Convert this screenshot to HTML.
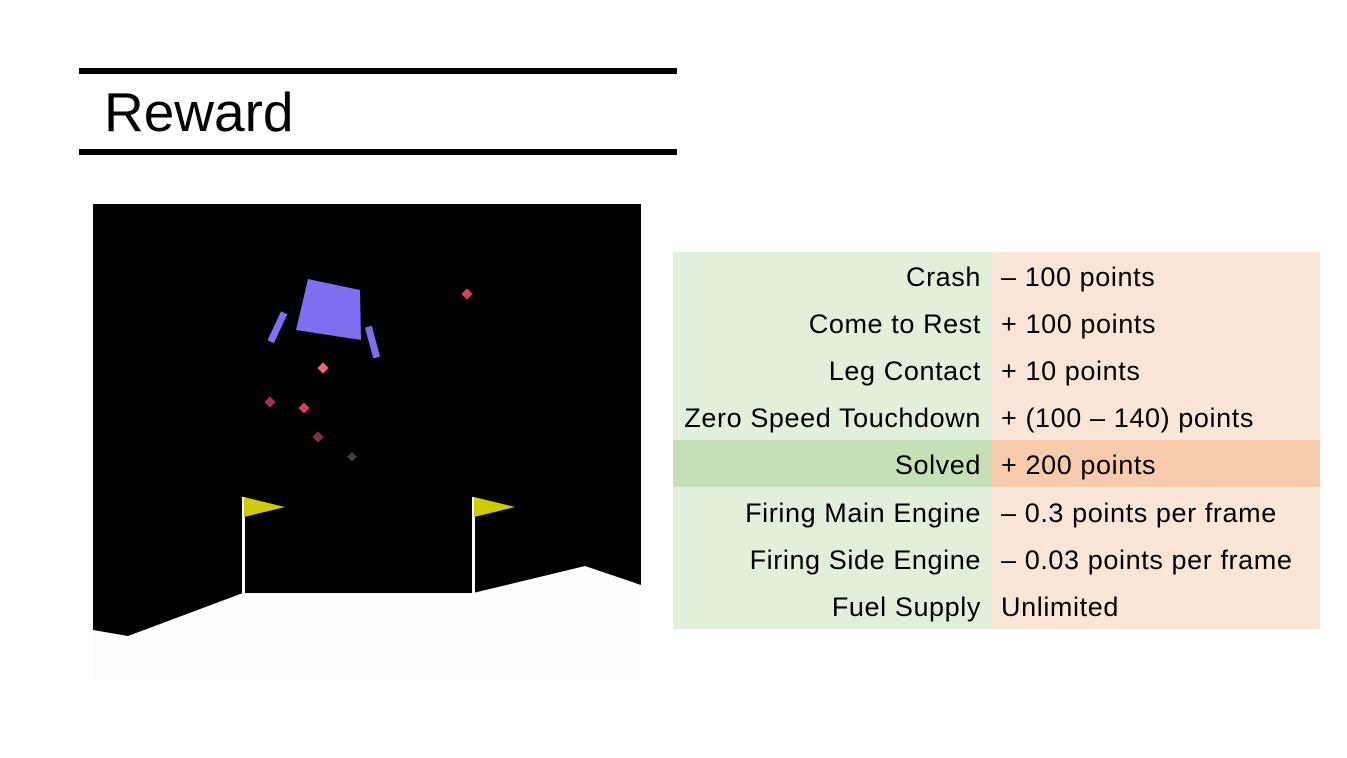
<!DOCTYPE html>
<html><head><meta charset="utf-8"><style>
body{margin:0;width:1347px;height:758px;background:#fff;position:relative;overflow:hidden;font-family:"Liberation Sans",sans-serif}
.bar{position:absolute;left:79px;width:598px;height:6px;background:#000}
#title{position:absolute;left:104px;top:80px;font-size:55px;color:#000}
table{position:absolute;left:673px;top:252px;width:647px;border-collapse:collapse;font-size:27px;letter-spacing:0.6px}
td{height:47.1px;padding:4px 10px 0 10px;box-sizing:border-box;white-space:nowrap}
td.l{text-align:right;background:#e2efda;width:318px}
td.r{background:#fbe5d6}
tr.s td.l{background:#c5e0b4}tr.s td.r{background:#f8cbad}
</style></head><body>
<div class="bar" style="top:68px"></div>
<div id="title">Reward</div>
<div class="bar" style="top:149px"></div>
<svg style="position:absolute;left:93px;top:204px" width="548" height="476">
<rect width="548" height="476" fill="#000"/>
<polygon points="0,426 35,432 150,389 380,389 492,362 548,381 548,476 0,476" fill="#fdfdfd"/>
<rect x="149" y="293" width="3" height="96" fill="#fff"/>
<polygon points="151,293 192,303 151,313" fill="#cccc00"/>
<rect x="379" y="293" width="3" height="96" fill="#fff"/>
<polygon points="381,293 422,303 381,313" fill="#cccc00"/>
<polygon points="215,75 267,86 268,136 203,126" fill="#7d6ff0"/>
<rect x="181" y="107" width="7" height="32" fill="#7d6ff0" transform="rotate(25 184 123)"/>
<rect x="276" y="122" width="7" height="32" fill="#7d6ff0" transform="rotate(-15 280 138)"/>
<g fill="#d04060">
<rect x="370" y="86" width="8" height="8" transform="rotate(45 374 90)"/>
<rect x="226" y="160" width="8" height="8" transform="rotate(45 230 164)" fill="#f06080"/>
<rect x="173" y="194" width="8" height="8" transform="rotate(45 177 198)" fill="#a03050"/>
<rect x="207" y="200" width="8" height="8" transform="rotate(45 211 204)"/>
<rect x="221" y="229" width="8" height="8" transform="rotate(45 225 233)" fill="#803040"/>
<rect x="256" y="249" width="7" height="7" transform="rotate(45 259 252)" fill="#404040"/>
</g>
</svg>
<table>
<tr><td class="l">Crash</td><td class="r">– 100 points</td></tr>
<tr><td class="l">Come to Rest</td><td class="r">+ 100 points</td></tr>
<tr><td class="l">Leg Contact</td><td class="r">+ 10 points</td></tr>
<tr><td class="l">Zero Speed Touchdown</td><td class="r">+ (100 – 140) points</td></tr>
<tr class="s"><td class="l">Solved</td><td class="r">+ 200 points</td></tr>
<tr><td class="l">Firing Main Engine</td><td class="r">– 0.3 points per frame</td></tr>
<tr><td class="l">Firing Side Engine</td><td class="r">– 0.03 points per frame</td></tr>
<tr><td class="l">Fuel Supply</td><td class="r">Unlimited</td></tr>
</table>
</body></html>
